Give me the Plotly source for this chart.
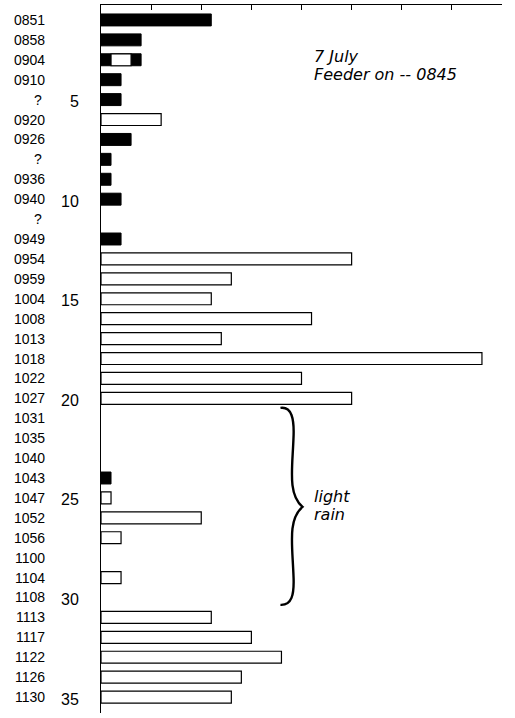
import plotly.graph_objects as go

# ---- data ----
times = ["0851", "0858", "0904", "0910", "?", "0920", "0926", "?", "0936", "0940",
         "?", "0949", "0954", "0959", "1004", "1008", "1013", "1018", "1022", "1027",
         "1031", "1035", "1040", "1043", "1047", "1052", "1056", "1100", "1104", "1108",
         "1113", "1117", "1122", "1126", "1130"]
black_vals = [11, 4, 4, 2, 2, 0, 3, 1, 1, 2,
              0, 2, 0, 0, 0, 0, 0, 0, 0, 0,
              0, 0, 0, 1, 0, 0, 0, 0, 0, 0,
              0, 0, 0, 0, 0]
white_vals = [0, 0, 2, 0, 0, 6, 0, 0, 0, 0,
              0, 0, 25, 13, 11, 21, 12, 38, 20, 25,
              0, 0, 0, 0, 1, 10, 2, 0, 2, 0,
              11, 15, 18, 14, 13]
white_base = [0, 0, 1, 0, 0, 0, 0, 0, 0, 0,
              0, 0, 0, 0, 0, 0, 0, 0, 0, 0,
              0, 0, 0, 0, 0, 0, 0, 0, 0, 0,
              0, 0, 0, 0, 0]
row_numbers = [5, 10, 15, 20, 25, 30, 35]
x_ticks = [5, 10, 15, 20, 25, 30, 35, 40]

rows = list(range(1, len(times) + 1))
FONT = "Liberation Sans, Arial, sans-serif"
IFONT = "DejaVu Sans, sans-serif"

def nz(vals):
    return [v if v else None for v in vals]

fig = go.Figure()
fig.add_trace(go.Bar(
    orientation="h", y=rows, x=nz(black_vals), base=[0] * len(rows), width=0.6,
    marker=dict(color="black", line=dict(color="black", width=1)),
    showlegend=False))
fig.add_trace(go.Bar(
    orientation="h", y=rows, x=nz(white_vals), base=white_base, width=0.6,
    marker=dict(color="white", line=dict(color="black", width=1.2)),
    showlegend=False))

X_TIME = -0.1347
X_Q = -0.157
X_NUM = -0.0499

ann = []
for r, t in zip(rows, times):
    if t == "?":
        ann.append(dict(x=X_Q, y=r, xref="paper", yref="y", text=t, showarrow=False,
                        xanchor="center", yanchor="middle",
                        font=dict(family=FONT, size=14, color="black")))
    else:
        ann.append(dict(x=X_TIME, y=r, xref="paper", yref="y", text=t, showarrow=False,
                        xanchor="right", yanchor="middle",
                        font=dict(family=FONT, size=14, color="black")))
for n in row_numbers:
    ann.append(dict(x=X_NUM, y=n + 0.1, xref="paper", yref="y", text=str(n), showarrow=False,
                    xanchor="right", yanchor="middle",
                    font=dict(family=FONT, size=16, color="black")))

ann.append(dict(x=21.0, y=2.85, xref="x", yref="y", text="<i>7 July</i>", showarrow=False,
                xanchor="left", yanchor="middle",
                font=dict(family=IFONT, size=16, color="black")))
ann.append(dict(x=21.0, y=3.75, xref="x", yref="y", text="<i>Feeder on -- 0845</i>",
                showarrow=False, xanchor="left", yanchor="middle",
                font=dict(family=IFONT, size=16, color="black")))
ann.append(dict(x=21.0, y=24.95, xref="x", yref="y", text="<i>light</i>", showarrow=False,
                xanchor="left", yanchor="middle",
                font=dict(family=IFONT, size=16, color="black")))
ann.append(dict(x=21.0, y=25.85, xref="x", yref="y", text="<i>rain</i>", showarrow=False,
                xanchor="left", yanchor="middle",
                font=dict(family=IFONT, size=16, color="black")))

brace = ("M 17.9 20.48 C 19.0 20.4, 19.3 21.0, 19.2 22.0 "
         "C 19.1 23.5, 18.6 24.8, 20.1 25.45 "
         "C 18.6 26.1, 19.1 27.4, 19.2 28.9 "
         "C 19.3 29.9, 19.0 30.4, 17.9 30.37")

fig.update_layout(
    width=515, height=718,
    margin=dict(l=101, r=13, t=5, b=5),
    paper_bgcolor="white", plot_bgcolor="white",
    barmode="overlay",
    annotations=ann,
    shapes=[dict(type="path", path=brace, xref="x", yref="y",
                 line=dict(color="black", width=2.4))],
    xaxis=dict(range=[0, 40], side="top", showline=True, linecolor="black", linewidth=1.3,
               ticks="inside", ticklen=5, tickcolor="black", tickwidth=1.2,
               tickvals=x_ticks, showticklabels=False, showgrid=False, zeroline=False,
               fixedrange=True),
    yaxis=dict(range=[35.8, 0.25], showline=True, linecolor="black", linewidth=1.3,
               showticklabels=False, ticks="", showgrid=False, zeroline=False,
               fixedrange=True),
)

fig.write_html("out.html")
